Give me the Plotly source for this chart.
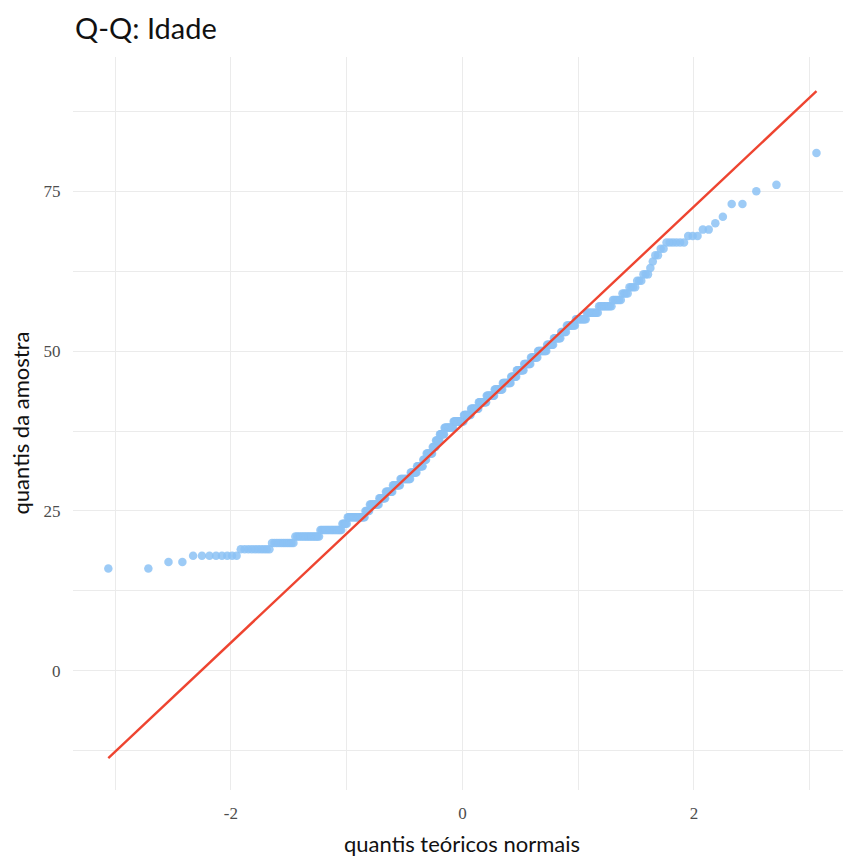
import numpy as np
import plotly.graph_objects as go
from statistics import NormalDist

ages = [16, 17, 18, 19, 20, 21, 22, 23, 24, 25, 26, 27, 28, 29, 30, 31, 32, 33, 34, 35,
        36, 37, 38, 39, 40, 41, 42, 43, 44, 45, 46, 47, 48, 49, 50, 51, 52, 53, 54, 55,
        56, 57, 58, 59, 60, 61, 62, 63, 64, 65, 66, 67, 68, 69, 70, 71, 73, 75, 76, 81]
counts = [2, 2, 8, 10, 11, 16, 18, 5, 18, 5, 11, 8, 9, 10, 14, 9, 9, 5, 9, 5,
          6, 7, 14, 16, 11, 12, 12, 12, 12, 12, 8, 10, 9, 9, 11, 8, 8, 6, 9, 10,
          10, 10, 6, 4, 4, 3, 3, 1, 1, 2, 2, 6, 3, 2, 1, 1, 2, 1, 1, 1]

x_tickvals = [-2, 0, 2]
x_ticktext = ["-2", "0", "2"]
y_tickvals = [0, 25, 50, 75]
y_ticktext = ["0", "25", "50", "75"]

# stat_qq: sorted sample vs theoretical normal quantiles
sample = np.sort(np.repeat(ages, counts).astype(float))
n = len(sample)
nd = NormalDist()
theo = np.array([nd.inv_cdf((i - 0.5) / n) for i in range(1, n + 1)])

# stat_qq_line: line through the quartiles
q1, q3 = np.quantile(sample, [0.25, 0.75])
z1, z3 = nd.inv_cdf(0.25), nd.inv_cdf(0.75)
slope = (q3 - q1) / (z3 - z1)
intercept = q1 - slope * z1
lx = np.array([theo.min(), theo.max()])
ly = intercept + slope * lx

W, H = 843, 856
L, R, T, B = 73, 0, 57, 66

fig = go.Figure()
fig.add_trace(go.Scatter(
    x=theo, y=sample, mode="markers",
    marker=dict(size=8.5, color="rgba(140,194,244,0.85)", line=dict(width=0)),
    showlegend=False, hoverinfo="skip"))
fig.add_trace(go.Scatter(
    x=lx, y=ly, mode="lines",
    line=dict(color="#EE4430", width=2.4),
    showlegend=False, hoverinfo="skip"))

grid = "#EBEBEB"
tickfont = dict(size=17, color="#4D4D4D", family="Liberation Serif")
fig.update_layout(
    width=W, height=H,
    margin=dict(l=L, r=R, t=T, b=B),
    paper_bgcolor="white", plot_bgcolor="white",
    font=dict(family="Lato", color="#222222"),
    title=dict(text="Q-Q: Idade", x=75 / W, xref="container", xanchor="left",
               y=1 - 29 / H, yref="container", yanchor="middle",
               font=dict(size=29, family="Lato", color="#111111")),
    xaxis=dict(range=[-3.364, 3.288], tickvals=x_tickvals, ticktext=x_ticktext,
               showgrid=True, gridcolor=grid, gridwidth=1, zeroline=False,
               showline=False, ticks="outside", ticklen=8, tickcolor="rgba(0,0,0,0)",
               tickfont=tickfont,
               minor=dict(dtick=1, tick0=0, showgrid=True, gridcolor=grid, gridwidth=0.8)),
    yaxis=dict(range=[-18.65, 96.0], tickvals=y_tickvals, ticktext=y_ticktext,
               showgrid=True, gridcolor=grid, gridwidth=1, zeroline=False,
               showline=False, ticks="outside", ticklen=8, tickcolor="rgba(0,0,0,0)",
               tickfont=tickfont,
               minor=dict(dtick=12.5, tick0=0, showgrid=True, gridcolor=grid, gridwidth=0.8)),
    annotations=[
        dict(text="quantis teóricos normais", xref="paper", yref="paper", x=(462 - L) / (W - L - R),
             y=0, yanchor="middle", xanchor="center", yshift=-(843 - 790), showarrow=False,
             font=dict(size=22, family="Lato", color="#111111")),
        dict(text="quantis da amostra", xref="paper", yref="paper", x=0, y=0.5,
             xanchor="center", yanchor="middle", xshift=-(73 - 20), textangle=-90, showarrow=False,
             font=dict(size=22, family="Lato", color="#111111")),
    ],
)

fig.write_html("out.html", config={"displayModeBar": False},
               post_script="document.body.style.margin='0';document.body.style.overflow='hidden';")
